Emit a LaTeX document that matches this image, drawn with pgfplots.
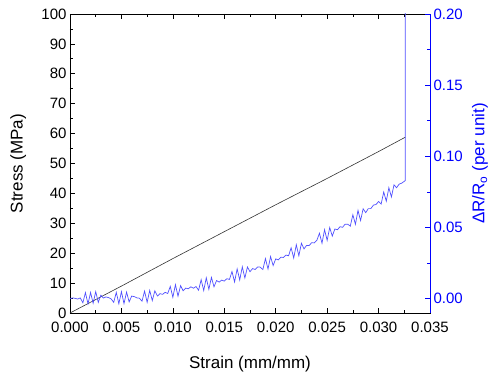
\documentclass[border=0pt]{standalone}
\usepackage{fontspec}
\setmainfont{Liberation Sans}
\usepackage{pgfplots}
\pgfplotsset{compat=1.18}
\definecolor{curveblue}{RGB}{80,80,255}
\begin{document}
\begin{tikzpicture}
\pgfplotsset{
 common/.style={
  scale only axis, width=360bp, height=299bp,
  xmin=0, xmax=0.035,
  tick align=inside,
  major tick length=5bp, minor tick length=3bp,
  tick label style={font=\fontsize{15bp}{18bp}\selectfont},
  label style={font=\fontsize{17bp}{20bp}\selectfont},
  /pgf/number format/assume math mode=true,
  axis line style={line width=0.8bp},
  every tick/.style={line width=0.7bp},
 }
}
\begin{axis}[common, name=ax,
  ymin=0, ymax=100, ytick={0,10,20,30,40,50,60,70,80,90,100}, minor y tick num=1,
  xtick={0,0.005,0.010,0.015,0.020,0.025,0.030,0.035}, minor x tick num=1,
  xticklabel style={yshift=-6bp, /pgf/number format/.cd, fixed, fixed zerofill, precision=3},
  scaled x ticks=false,
  xtick pos=both, ytick pos=left,
  xlabel={Strain (mm/mm)}, ylabel={Stress (MPa)},
  xlabel style={at={(axis description cs:0.5,-0.172)}, anchor=center},
  ylabel style={at={(axis description cs:-0.144,0.5)}, anchor=center},
]
\addplot[black!80, line width=0.6bp] coordinates {
(0,0) (0.0025,4.5) (0.005,9.0) (0.0075,13.6) (0.010,18.2) (0.0125,22.7)
(0.015,27.2) (0.0175,31.7) (0.020,36.2) (0.0225,40.6) (0.025,45.0)
(0.0275,49.5) (0.030,54.0) (0.0326,58.8)};
\end{axis}
\begin{axis}[common, axis y line*=right, axis x line=none,
  ymin=-0.01, ymax=0.2, ytick={0,0.05,0.1,0.15,0.2}, minor y tick num=1,
  yticklabel style={blue, /pgf/number format/.cd, fixed, fixed zerofill, precision=2},
  scaled y ticks=false,
  y axis line style={blue, line width=0.8bp},
  ytick style={blue}, minor y tick style={blue},
  ylabel={\textcolor{blue}{ΔR/R\textsubscript{o} (per unit)}},
  ylabel style={at={(axis description cs:1.139,0.5)}, anchor=center},
  tick align=inside,
]
\addplot[curveblue, line width=0.7bp] coordinates {
(0.00000,0.0000) (0.00025,0.0006) (0.00050,0.0003) (0.00075,-0.0002) (0.00100,0.0006)
(0.00125,-0.0028) (0.00150,0.0043) (0.00175,-0.0036) (0.00200,0.0044) (0.00225,-0.0031)
(0.00250,0.0050) (0.00275,-0.0025) (0.00300,0.0025) (0.00325,0.0005) (0.00350,0.0013)
(0.00375,0.0008) (0.00400,-0.0001) (0.00425,-0.0025) (0.00450,0.0045) (0.00475,-0.0035)
(0.00500,0.0050) (0.00525,-0.0034) (0.00550,0.0047) (0.00575,-0.0022) (0.00600,0.0019)
(0.00625,0.0015) (0.00650,0.0006) (0.00675,0.0004) (0.00700,-0.0017) (0.00725,0.0054)
(0.00750,-0.0025) (0.00775,0.0059) (0.00800,-0.0013) (0.00825,0.0056) (0.00850,0.0019)
(0.00875,0.0036) (0.00900,0.0031) (0.00925,0.0045) (0.00950,0.0037) (0.00975,0.0087)
(0.01000,0.0010) (0.01025,0.0099) (0.01050,0.0018) (0.01075,0.0092) (0.01100,0.0056)
(0.01125,0.0075) (0.01150,0.0070) (0.01175,0.0084) (0.01200,0.0074) (0.01225,0.0086)
(0.01250,0.0060) (0.01275,0.0134) (0.01300,0.0058) (0.01325,0.0147) (0.01350,0.0066)
(0.01375,0.0150) (0.01400,0.0084) (0.01425,0.0128) (0.01450,0.0117) (0.01475,0.0131)
(0.01500,0.0124) (0.01525,0.0141) (0.01550,0.0136) (0.01575,0.0191) (0.01600,0.0118)
(0.01625,0.0210) (0.01650,0.0132) (0.01675,0.0224) (0.01700,0.0146) (0.01725,0.0223)
(0.01750,0.0190) (0.01775,0.0212) (0.01800,0.0206) (0.01825,0.0224) (0.01850,0.0222)
(0.01875,0.0205) (0.01900,0.0282) (0.01925,0.0209) (0.01950,0.0296) (0.01975,0.0233)
(0.02000,0.0280) (0.02025,0.0273) (0.02050,0.0292) (0.02075,0.0290) (0.02100,0.0307)
(0.02125,0.0302) (0.02150,0.0358) (0.02175,0.0286) (0.02200,0.0379) (0.02225,0.0302)
(0.02250,0.0390) (0.02275,0.0350) (0.02300,0.0375) (0.02325,0.0374) (0.02350,0.0394)
(0.02375,0.0392) (0.02400,0.0410) (0.02425,0.0460) (0.02450,0.0390) (0.02475,0.0485)
(0.02500,0.0410) (0.02525,0.0500) (0.02550,0.0440) (0.02575,0.0490) (0.02600,0.0485)
(0.02625,0.0506) (0.02650,0.0502) (0.02675,0.0524) (0.02700,0.0524) (0.02725,0.0510)
(0.02750,0.0590) (0.02775,0.0523) (0.02800,0.0621) (0.02825,0.0549) (0.02850,0.0632)
(0.02875,0.0605) (0.02900,0.0633) (0.02925,0.0633) (0.02950,0.0658) (0.02975,0.0662)
(0.03000,0.0683) (0.03025,0.0665) (0.03050,0.0750) (0.03075,0.0685) (0.03100,0.0780)
(0.03125,0.0715) (0.03150,0.0800) (0.03175,0.0780) (0.03200,0.0805) (0.03225,0.0812)
(0.03260,0.0830) (0.03260,0.2500)};
\end{axis}
\pgfresetboundingbox
\path ([shift={(-70bp,-68bp)}]ax.south west) rectangle ([shift={(64bp,14bp)}]ax.north east);
\end{tikzpicture}
\end{document}
